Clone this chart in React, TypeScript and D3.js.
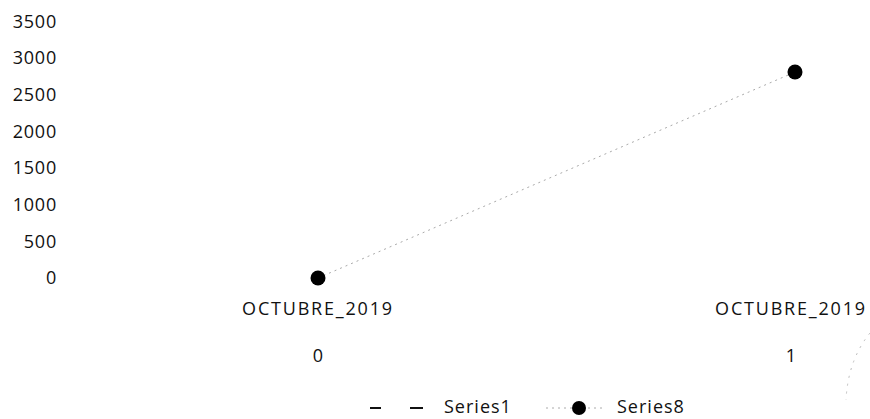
import React from "react";
import { scaleLinear, scalePoint, line, range } from "d3";

const categories = ["0", "1"];
const periodLabels = ["OCTUBRE_2019", "OCTUBRE_2019"];
const series1Values: (number | null)[] = [null, null];
const series8Values = [0, 2810];
const yTicks = range(0, 3501, 500);

const width = 870;
const height = 419;
const font = "'Open Sans', sans-serif";

export default function App() {
  const xScale = scalePoint<string>().domain(categories).range([318, 795]);
  const yScale = scaleLinear().domain([0, 3500]).range([278, 21.5]);

  const pts8 = categories.map((c, i) => ({ c, v: series8Values[i] }));
  const pts1 = categories.map((c, i) => ({ c, v: series1Values[i] }));

  const lineGen = line<{ c: string; v: number | null }>()
    .defined(d => d.v !== null)
    .x(d => xScale(d.c) as number)
    .y(d => yScale(d.v as number));

  const yLabels = yTicks.map(t => (
    <text
      key={t}
      x={57}
      y={yScale(t)}
      dy="0.35em"
      textAnchor="end"
      fontSize={18}
      letterSpacing={0.8}
      fill="#111"
    >
      {t}
    </text>
  ));

  const xLabels = categories.map((c, i) => {
    const x = Math.min(xScale(c) as number, 791);
    return (
      <g key={c}>
        <text x={x} y={309} dy="0.35em" textAnchor="middle" fontSize={18} letterSpacing={1.8} fill="#111">
          {periodLabels[i]}
        </text>
        <text x={x} y={356} dy="0.35em" textAnchor="middle" fontSize={18} fill="#111">
          {c}
        </text>
      </g>
    );
  });

  const markers = pts8.map(d => (
    <circle key={d.c} cx={xScale(d.c)} cy={yScale(d.v)} r={7.5} fill="#000" />
  ));

  return (
    <svg
      width={width}
      height={height}
      viewBox={`0 0 ${width} ${height}`}
      style={{ position: "absolute", left: 0, top: 0, background: "#fff" }}
      fontFamily={font}
    >
      {yLabels}
      <path d={lineGen(pts1) || ""} fill="none" stroke="#111" strokeWidth={2} strokeDasharray="12,16" />
      <path d={lineGen(pts8) || ""} fill="none" stroke="#aaa" strokeWidth={1} strokeDasharray="2,4" />
      {markers}
      {xLabels}

      {/* legend */}
      <g>
        <line x1={370} x2={381} y1={408} y2={408} stroke="#111" strokeWidth={2} />
        <line x1={410} x2={423} y1={408} y2={408} stroke="#111" strokeWidth={2} />
        <text x={444} y={407} dy="0.35em" fontSize={18} letterSpacing={1} fill="#111">Series1</text>
        <line x1={546} x2={602} y1={408} y2={408} stroke="#aaa" strokeWidth={1} strokeDasharray="2,4" />
        <circle cx={579} cy={408} r={7} fill="#000" />
        <text x={617} y={407} dy="0.35em" fontSize={18} letterSpacing={1} fill="#111">Series8</text>
      </g>

      {/* faint scan arc at right edge */}
      <path d="M870,333 Q848,360 846,400" fill="none" stroke="#bbb" strokeWidth={1} strokeDasharray="2,6" />
    </svg>
  );
}
